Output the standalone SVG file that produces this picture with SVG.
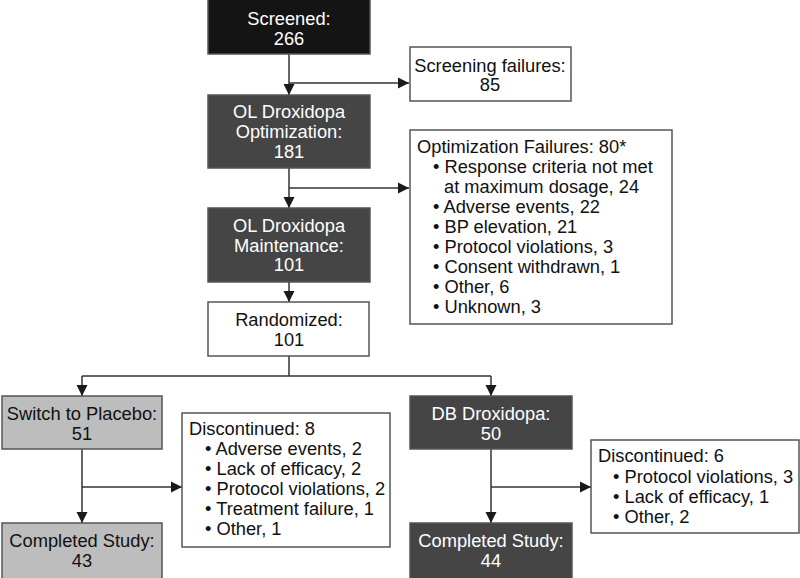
<svg xmlns="http://www.w3.org/2000/svg" width="800" height="578" viewBox="0 0 800 578">
<defs>
<marker id="ah" markerWidth="12" markerHeight="12" refX="11" refY="6" orient="auto" markerUnits="userSpaceOnUse">
<path d="M0,0.5 L11,6 L0,11.5 Z" fill="#1a1a1a"/>
</marker>
<style>
text{font-family:"Liberation Sans",Arial,Helvetica,sans-serif;font-size:18.3px;}
.c{text-anchor:middle;}
.box{stroke:#555;stroke-width:1.5;}
.blk{fill:#141414;}
.dk{fill:#454545;}
.lt{fill:#bdbdbd;}
.wh{fill:#fff;}
.tw{fill:#fff;}
.tb{fill:#111;}
.ln{stroke:#333;stroke-width:1.5;fill:none;}
</style>
</defs>
<rect width="800" height="578" fill="#fff"/>
<g id="connectors">
<path class="ln" d="M289,54 V95" marker-end="url(#ah)"/>
<path class="ln" d="M289,83 H409" marker-end="url(#ah)"/>
<path class="ln" d="M289,168 V208" marker-end="url(#ah)"/>
<path class="ln" d="M289,188 H409" marker-end="url(#ah)"/>
<path class="ln" d="M289,282 V302" marker-end="url(#ah)"/>
<path class="ln" d="M289,356 V376 M82,376 H491"/>
<path class="ln" d="M82,376 V396" marker-end="url(#ah)"/>
<path class="ln" d="M491,376 V396" marker-end="url(#ah)"/>
<path class="ln" d="M82,449 V523" marker-end="url(#ah)"/>
<path class="ln" d="M82,487 H182" marker-end="url(#ah)"/>
<path class="ln" d="M491,449 V523" marker-end="url(#ah)"/>
<path class="ln" d="M491,487 H591" marker-end="url(#ah)"/>
</g>
<g id="screened">
<rect class="box blk" x="208" y="-1" width="162" height="55"/>
<text class="c tw" x="289" y="25">Screened:</text>
<text class="c tw" x="289" y="45">266</text>
</g>
<g id="screening-failures">
<rect class="box wh" x="410" y="47" width="161" height="54"/>
<text class="c tb" x="490" y="72">Screening failures:</text>
<text class="c tb" x="490" y="91">85</text>
</g>
<g id="optimization">
<rect class="box dk" x="208" y="95" width="162" height="73"/>
<text class="c tw" x="289" y="118">OL Droxidopa</text>
<text class="c tw" x="289" y="138">Optimization:</text>
<text class="c tw" x="289" y="158">181</text>
</g>
<g id="optimization-failures">
<rect class="box wh" x="410" y="130" width="262" height="194"/>
<text class="tb" x="417" y="153">Optimization Failures: 80*</text>
<text class="tb" x="433" y="173">• Response criteria not met</text>
<text class="tb" x="444" y="193">at maximum dosage, 24</text>
<text class="tb" x="433" y="213">• Adverse events, 22</text>
<text class="tb" x="433" y="233">• BP elevation, 21</text>
<text class="tb" x="433" y="253">• Protocol violations, 3</text>
<text class="tb" x="433" y="273">• Consent withdrawn, 1</text>
<text class="tb" x="433" y="293">• Other, 6</text>
<text class="tb" x="433" y="313">• Unknown, 3</text>
</g>
<g id="maintenance">
<rect class="box dk" x="208" y="208" width="162" height="74"/>
<text class="c tw" x="289" y="232">OL Droxidopa</text>
<text class="c tw" x="289" y="252">Maintenance:</text>
<text class="c tw" x="289" y="271">101</text>
</g>
<g id="randomized">
<rect class="box wh" x="208" y="302" width="161" height="54"/>
<text class="c tb" x="289" y="326">Randomized:</text>
<text class="c tb" x="289" y="346">101</text>
</g>
<g id="placebo">
<rect class="box lt" x="2" y="396" width="160" height="53"/>
<text class="c tb" x="82" y="420">Switch to Placebo:</text>
<text class="c tb" x="82" y="440">51</text>
</g>
<g id="discontinued-placebo">
<rect class="box wh" x="182" y="413" width="208" height="134"/>
<text class="tb" x="189" y="435">Discontinued: 8</text>
<text class="tb" x="205" y="455">• Adverse events, 2</text>
<text class="tb" x="205" y="475">• Lack of efficacy, 2</text>
<text class="tb" x="205" y="495">• Protocol violations, 2</text>
<text class="tb" x="205" y="515">• Treatment failure, 1</text>
<text class="tb" x="205" y="535">• Other, 1</text>
</g>
<g id="completed-placebo">
<rect class="box lt" x="2" y="523" width="160" height="60"/>
<text class="c tb" x="82" y="547">Completed Study:</text>
<text class="c tb" x="82" y="567">43</text>
</g>
<g id="db-droxidopa">
<rect class="box dk" x="410" y="396" width="162" height="53"/>
<text class="c tw" x="491" y="420">DB Droxidopa:</text>
<text class="c tw" x="491" y="440">50</text>
</g>
<g id="discontinued-droxidopa">
<rect class="box wh" x="591" y="440" width="208" height="93"/>
<text class="tb" x="598" y="462">Discontinued: 6</text>
<text class="tb" x="613" y="483">• Protocol violations, 3</text>
<text class="tb" x="613" y="503">• Lack of efficacy, 1</text>
<text class="tb" x="613" y="523">• Other, 2</text>
</g>
<g id="completed-droxidopa">
<rect class="box dk" x="410" y="523" width="162" height="60"/>
<text class="c tw" x="491" y="547">Completed Study:</text>
<text class="c tw" x="491" y="567">44</text>
</g>
</svg>
